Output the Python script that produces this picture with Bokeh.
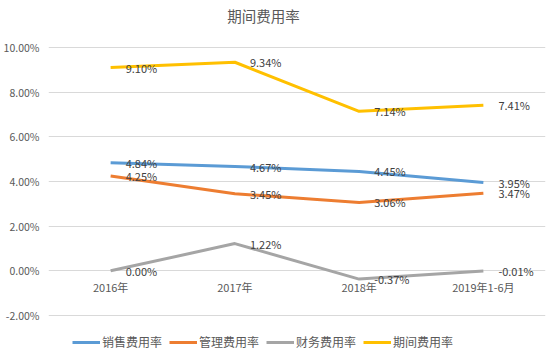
from bokeh.plotting import figure
from bokeh.models import (ColumnDataSource, FixedTicker, PrintfTickFormatter,
                          Legend, LegendItem, Range1d, Label)
from bokeh.core.properties import value
from bokeh.embed import file_html
from bokeh.resources import INLINE

title_text = "期间费用率"
categories = ["2016年", "2017年", "2018年", "2019年1-6月"]
sales = [4.84, 4.67, 4.45, 3.95]
admin = [4.25, 3.45, 3.06, 3.47]
finance = [0.00, 1.22, -0.37, -0.01]
period = [9.10, 9.34, 7.14, 7.41]
series_names = ["销售费用率", "管理费用率", "财务费用率", "期间费用率"]
series_colors = ["#5B9BD5", "#ED7D31", "#A5A5A5", "#FFC000"]
y_ticks = [-2, 0, 2, 4, 6, 8, 10]

FONT = "Noto Sans CJK SC"

# frame spans the whole figure height; the range is padded so that the
# -2%..10% grid sits where the reference puts it, leaving room for title/legend
p = figure(x_range=categories, y_range=Range1d(-3.612, 11.746),
           frame_width=497, frame_height=343,
           output_backend="svg", toolbar_location=None, x_axis_location=None,
           min_border_left=44, min_border_right=1, min_border_top=8,
           min_border_bottom=0)

p.outline_line_color = None
p.background_fill_color = "white"
p.border_fill_color = "white"
p.xgrid.grid_line_color = None
p.ygrid.grid_line_color = "#D9D9D9"
p.ygrid.grid_line_width = 1

p.yaxis.ticker = FixedTicker(ticks=y_ticks)
p.yaxis.formatter = PrintfTickFormatter(format="%.2f%%")
p.yaxis.axis_line_color = None
p.yaxis.major_tick_line_color = None
p.yaxis.minor_tick_line_color = None
p.yaxis.major_tick_out = 0
p.yaxis.major_tick_in = 0
p.yaxis.major_label_text_font = FONT
p.yaxis.major_label_text_font_size = "10.5px"
p.yaxis.major_label_text_color = "#595959"
p.yaxis.major_label_standoff = 9

all_series = [sales, admin, finance, period]
renderers = []
for vals, color in zip(all_series, series_colors):
    src = ColumnDataSource(dict(x=categories, y=vals,
                                lab=["%.2f%%" % v for v in vals]))
    r = p.line("x", "y", source=src, line_color=color, line_width=3)
    renderers.append(r)
    p.text("x", "y", text="lab", source=src, x_offset=15,
           text_baseline="middle", text_align="left",
           text_font=value(FONT), text_font_size="11px", text_color="#404040")

cat_src = ColumnDataSource(dict(x=categories, y=[0] * len(categories)))
p.text("x", "y", text="x", source=cat_src, y_offset=8, text_baseline="top",
       text_align="center", text_font=value(FONT), text_font_size="11px",
       text_color="#595959")

title = Label(x=215, y=336, x_units="screen", y_units="screen",
              text=title_text, text_align="center", text_baseline="middle",
              text_font=FONT, text_font_size="14.5px", text_color="#595959")
p.add_layout(title)

legend = Legend(items=[LegendItem(label=n, renderers=[r])
                       for n, r in zip(series_names, renderers)],
                orientation="horizontal", location=(24, 1),
                border_line_color=None, background_fill_alpha=0,
                label_text_font=FONT, label_text_font_size="12px",
                label_text_color="#595959",
                glyph_width=28, glyph_height=14, label_height=14,
                spacing=7, padding=0, margin=0, label_standoff=2)
p.add_layout(legend)

open("out.html", "w").write(file_html(p, INLINE))
